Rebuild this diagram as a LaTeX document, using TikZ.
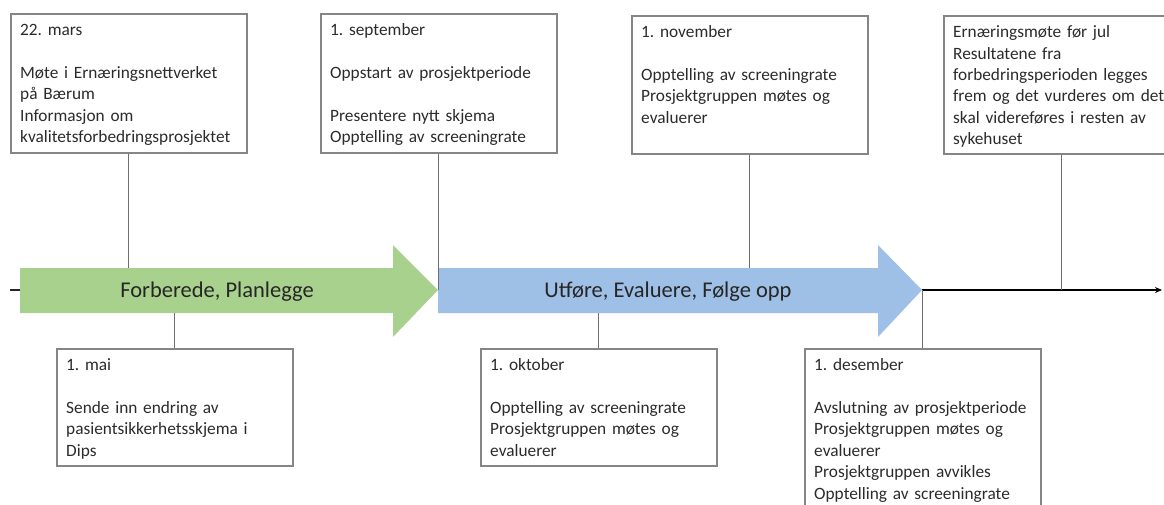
\documentclass[tikz,border=0pt]{standalone}
\usepackage{fontspec}
\setmainfont{Carlito}
\usetikzlibrary{arrows.meta}
\definecolor{txt}{HTML}{2B2B2B}
\definecolor{boxgray}{HTML}{858585}
\definecolor{linegray}{HTML}{6E6E6E}
\definecolor{greenfill}{HTML}{A9D18E}
\definecolor{bluefill}{HTML}{9FC0E6}
\frenchspacing
\begin{document}
\begin{tikzpicture}[x=1pt,y=-1pt,
  evbox/.style={draw=boxgray, line width=1.6pt, minimum width=236pt, minimum height=139pt, anchor=north west, inner sep=0pt},
  lowbox/.style={evbox, minimum height=117pt},
  evtext/.style={anchor=north west, text width=226pt, align=left, inner sep=0pt, font=\fontsize{17.3}{21.4}\selectfont, text=txt},
  conn/.style={draw=linegray, line width=1.3pt},
  phase/.style={font=\fontsize{22.5}{26}\selectfont, text=black!85, inner sep=0pt},
]
\useasboundingbox (0,0) rectangle (1164,504);
\clip (0,0) rectangle (1164,504);

% arrow geometry
\coordinate (gstart) at (20,290);
\coordinate (gtop) at (20,268);
\coordinate (gbot) at (20,313);
\coordinate (gtip) at (438,290);
\coordinate (btip) at (922,290);
\coordinate (axend) at (1162,290);

% phase arrows
\fill[greenfill] (20,268) -- (393,268) -- (393,245) -- (gtip) -- (393,337) -- (393,313) -- (20,313) -- cycle;
\fill[bluefill] (438,268) -- (878,268) -- (878,245) -- (btip) -- (878,337) -- (878,313) -- (438,313) -- cycle;
\node[phase] (p1) at (217,292) {Forberede, Planlegge};
\node[phase] (p2) at (668,292) {Utføre, Evaluere, Følge opp};

% axis
\coordinate (axstart) at (10,290);
\draw[black!85, line width=1.2pt] (axstart) -- (gstart);
\draw[black, line width=1.3pt, -{Stealth[length=7pt,width=6pt]}] (btip) -- (axend);

% top boxes
\node[evbox] (b1) at (10,13) {};
\node[evtext] (t1) at ([xshift=10pt,yshift=-10pt]b1.north west) {\rule{0pt}{12.5pt}22. mars\\ \mbox{}\\ Møte i Ernæringsnettverket\\ på Bærum\\ Informasjon om\\ kvalitetsforbedringsprosjektet};

\node[evbox] (b2) at (320,13) {};
\node[evtext] (t2) at ([xshift=10pt,yshift=-10pt]b2.north west) {\rule{0pt}{12.5pt}1. september\\ \mbox{}\\ Oppstart av prosjektperiode\\ \mbox{}\\ Presentere nytt skjema\\ Opptelling av screeningrate};

\node[evbox, minimum height=138pt] (b3) at (631,15) {};
\node[evtext] (t3) at ([xshift=10pt,yshift=-10pt]b3.north west) {\rule{0pt}{12.5pt}1. november\\ \mbox{}\\ Opptelling av screeningrate\\ Prosjektgruppen møtes og\\ evaluerer};

\node[evbox, minimum height=138pt] (b4) at (943,15) {};
\node[evtext] (t4) at ([xshift=10pt,yshift=-10pt]b4.north west) {\rule{0pt}{12.5pt}Ernæringsmøte før jul\\ Resultatene fra\\ forbedringsperioden legges\\ frem og det vurderes om det\\ skal videreføres i resten av\\ sykehuset};

% bottom boxes
\node[lowbox] (d1) at (56,348) {};
\node[evtext] (u1) at ([xshift=10pt,yshift=-10pt]d1.north west) {\rule{0pt}{12.5pt}1. mai\\ \mbox{}\\ Sende inn endring av\\ pasientsikkerhetsskjema i\\ Dips};

\node[lowbox] (d2) at (480,348) {};
\node[evtext] (u2) at ([xshift=10pt,yshift=-10pt]d2.north west) {\rule{0pt}{12.5pt}1. oktober\\ \mbox{}\\ Opptelling av screeningrate\\ Prosjektgruppen møtes og\\ evaluerer};

\node[lowbox, minimum height=170pt] (d3) at (804,348) {};
\node[evtext] (u3) at ([xshift=10pt,yshift=-10pt]d3.north west) {\rule{0pt}{12.5pt}1. desember\\ \mbox{}\\ Avslutning av prosjektperiode\\ Prosjektgruppen møtes og\\ evaluerer\\ Prosjektgruppen avvikles\\ Opptelling av screeningrate};

% connectors
\draw[conn] (b1.south) -- (b1.south |- gtop);
\draw[conn] (b2.south) -- (b2.south |- gtip);
\draw[conn] (b3.south) -- (b3.south |- gtop);
\draw[conn] (b4.south) -- (b4.south |- gtip);
\draw[conn] (d1.north) -- (d1.north |- gbot);
\draw[conn] (d2.north) -- (d2.north |- gbot);
\draw[conn] (d3.north) -- (d3.north |- btip);
\end{tikzpicture}
\end{document}
